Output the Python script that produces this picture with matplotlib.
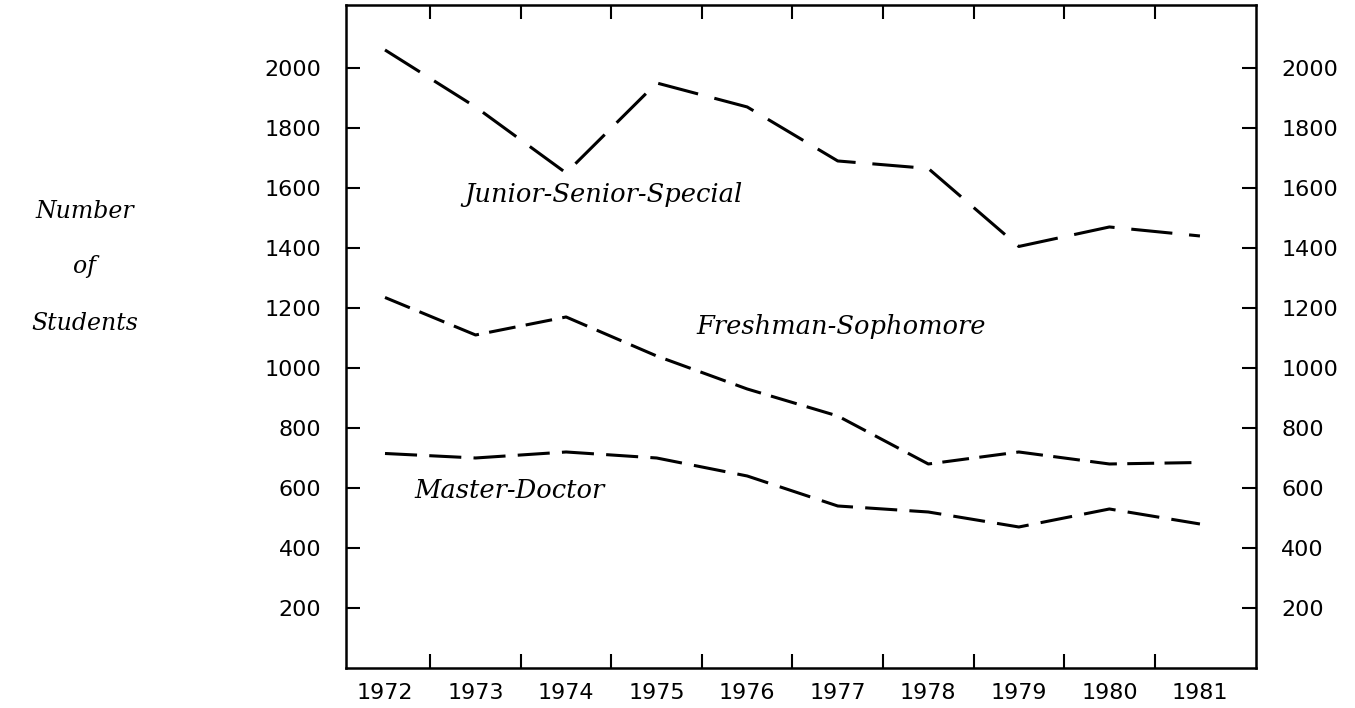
import numpy as np
import matplotlib.pyplot as plt

# Data
years = [1972, 1973, 1974, 1975, 1976, 1977, 1978, 1979, 1980, 1981]
junior_senior_special = [2060, 1870, 1650, 1950, 1870, 1690, 1665, 1405, 1470, 1440]
freshman_sophomore = [1235, 1110, 1170, 1040, 930, 840, 680, 720, 680, 685]
master_doctor = [715, 700, 720, 700, 640, 540, 520, 470, 530, 480]
y_ticks = [200, 400, 600, 800, 1000, 1200, 1400, 1600, 1800, 2000]

fig = plt.figure(figsize=(13.55, 7.08), dpi=100)
ax = fig.add_axes([0.2554, 0.0565, 0.6716, 0.9365])

lw = 2.2
ax.plot(years, junior_senior_special, color='black', linewidth=lw,
        dashes=(13.5, 5.5))
ax.plot(years, freshman_sophomore, color='black', linewidth=lw,
        dashes=(8.8, 3.4))
ax.plot(years, master_doctor, color='black', linewidth=lw,
        dashes=(10.5, 4))

# Series names written next to the lines
label_kw = dict(fontsize=18.5, style='italic', family='DejaVu Serif',
                ha='center', va='center')
ax.text(1974.41, 1577, "Junior-Senior-Special", **label_kw)
ax.text(1977.04, 1137, "Freshman-Sophomore", **label_kw)
ax.text(1973.38, 593, "Master-Doctor", **label_kw)

# Axes limits and ticks
ax.set_xlim(1971.57, 1981.62)
ax.set_ylim(0, 2210)

ax.set_xticks(years)
ax.set_xticklabels([str(y) for y in years])
ax.set_xticks([y + 0.5 for y in years[:-1]], minor=True)
ax.set_yticks(y_ticks)
ax.set_yticklabels([str(v) for v in y_ticks])

ax.tick_params(axis='x', which='major', length=0, pad=11, labelsize=16)
ax.tick_params(axis='x', which='minor', direction='in', length=10,
               width=1.5, top=True, bottom=True)
ax.tick_params(axis='y', which='major', direction='in', length=10,
               width=1.5, left=True, right=True, labelleft=True,
               labelright=True, labelsize=16, pad=18)

for spine in ax.spines.values():
    spine.set_linewidth(1.8)

# Y axis title on three lines, far left
title_kw = dict(fontsize=17, style='italic', family='DejaVu Serif',
                ha='center', va='center')
fig.text(85 / 1355, 1 - 212 / 708, "Number", **title_kw)
fig.text(85 / 1355, 1 - 267 / 708, "of", **title_kw)
fig.text(85 / 1355, 1 - 323 / 708, "Students", **title_kw)

fig.savefig("out.png", dpi=100)
